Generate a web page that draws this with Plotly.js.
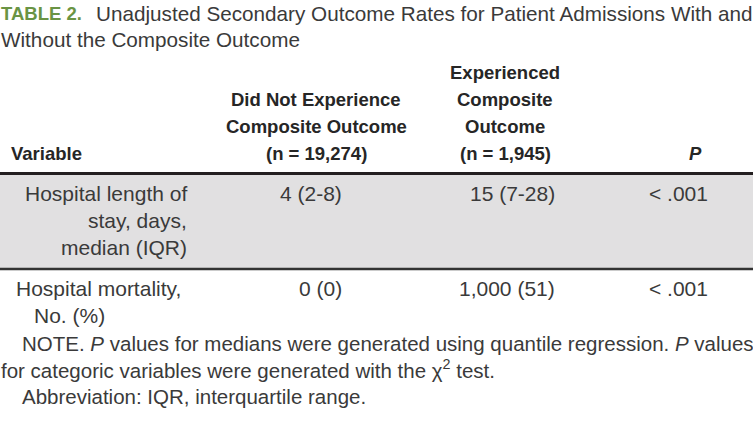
<!DOCTYPE html>
<html>
<head>
<meta charset="utf-8">
<script src="https://cdn.plot.ly/plotly-3.0.1.min.js"></script>
<style>html,body{margin:0;padding:0;background:#fff;}#chart{width:753px;height:442px;}</style>
</head>
<body>
<div id="chart"></div>
<script>
// ---- data ----
const tableLabel = "TABLE 2.";
const titleLines = ["Unadjusted Secondary Outcome Rates for Patient Admissions With and", "Without the Composite Outcome"];
const headers = ["Variable", "Did Not Experience<br>Composite Outcome<br>(n = 19,274)", "Experienced<br>Composite<br>Outcome<br>(n = 1,945)", "<i>P</i>"];
const variables = ["Hospital length of<br>stay, days,<br>median (IQR)", "Hospital mortality,<br>No. (%)"];
const noComposite = ["4 (2-8)", "0 (0)"];
const withComposite = ["15 (7-28)", "1,000 (51)"];
const pValues = ["< .001", "< .001"];
const notes = ["NOTE. <i>P</i> values for medians were generated using quantile regression. <i>P</i> values", "for categoric variables were generated with the χ<sup>2</sup> test.", "Abbreviation: IQR, interquartile range."];

// ---- style / layout ----
const FONT = "Liberation Sans, Arial, sans-serif";
const TXT = "#3a3a3a";
const BODY = 21;
const headerX = [10, 316, 505, 695];
const headerAnchor = ["left", "center", "center", "center"];
const rowTop = [181, 276];
const rowBottom = [269, 330];
const shaded = [true, false];
const LINE_H = 27;
const HEADER_LAST_Y = 153;

const ann = [];
ann.push({x: 0, y: 13, xanchor: "left", yanchor: "middle",
  text: "<b>" + tableLabel + "</b>", font: {family: FONT, size: 18.5, color: "#6a9444"}});
ann.push({x: 95, y: 13, xanchor: "left", yanchor: "middle", text: titleLines[0],
  font: {family: FONT, size: 20.7, color: TXT}});
ann.push({x: 0, y: 39, xanchor: "left", yanchor: "middle", text: titleLines[1],
  font: {family: FONT, size: 20.7, color: TXT}});
// headers (bottom aligned, one annotation per line)
headers.forEach((h, i) => {
  const lines = h.split("<br>");
  lines.forEach((line, k) => {
    ann.push({x: headerX[i], y: HEADER_LAST_Y - (lines.length - 1 - k) * LINE_H,
      xanchor: headerAnchor[i], yanchor: "middle",
      text: "<b>" + line + "</b>", font: {family: FONT, size: 18.5, color: "#262626"}});
  });
});
// rows
const varX = [[188, 188, 188], [15, 33]];
const varAnchor = ["right", "left"];
variables.forEach((v, r) => {
  v.split("<br>").forEach((line, k) => {
    ann.push({x: varX[r][k], y: rowTop[r] + k * LINE_H, xanchor: varAnchor[r], yanchor: "top",
      text: line, font: {family: FONT, size: BODY, color: TXT}});
  });
  ann.push({x: 343, y: rowTop[r], xanchor: "right", yanchor: "top", text: noComposite[r],
    font: {family: FONT, size: BODY, color: TXT}});
  ann.push({x: 556, y: rowTop[r], xanchor: "right", yanchor: "top", text: withComposite[r],
    font: {family: FONT, size: BODY, color: TXT}});
  ann.push({x: 678, y: rowTop[r], xanchor: "center", yanchor: "top", text: pValues[r],
    font: {family: FONT, size: BODY, color: TXT}});
});
// notes
const noteX = [21, 0, 21];
const noteY = [343, 369, 396];
notes.forEach((n, i) => {
  ann.push({x: noteX[i], y: noteY[i], xanchor: "left", yanchor: "middle", text: n,
    font: {family: FONT, size: 20.5, color: TXT}});
});

const shapes = [];
rowTop.forEach((t, r) => {
  if (shaded[r]) shapes.push({type: "rect", xref: "x", yref: "y", x0: 0, x1: 753, y0: 175, y1: rowBottom[r] - 1,
    fillcolor: "#e1e0e1", line: {width: 0}, layer: "below"});
});
shapes.push({type: "line", x0: 0, x1: 753, y0: 173.5, y1: 173.5, line: {color: "#231f20", width: 3}});
shapes.push({type: "line", x0: 0, x1: 753, y0: 269, y1: 269, line: {color: "#333333", width: 2.5}});

Plotly.newPlot("chart", [], {
  width: 753, height: 442,
  margin: {l: 0, r: 0, t: 0, b: 0},
  paper_bgcolor: "#fff", plot_bgcolor: "#fff",
  xaxis: {range: [0, 753], visible: false, fixedrange: true},
  yaxis: {range: [442, 0], visible: false, fixedrange: true},
  showlegend: false,
  annotations: ann.map(a => Object.assign({xref: "x", yref: "y", showarrow: false, borderpad: 0}, a)),
  shapes: shapes
}, {staticPlot: true, displayModeBar: false});
</script>
</body>
</html>
